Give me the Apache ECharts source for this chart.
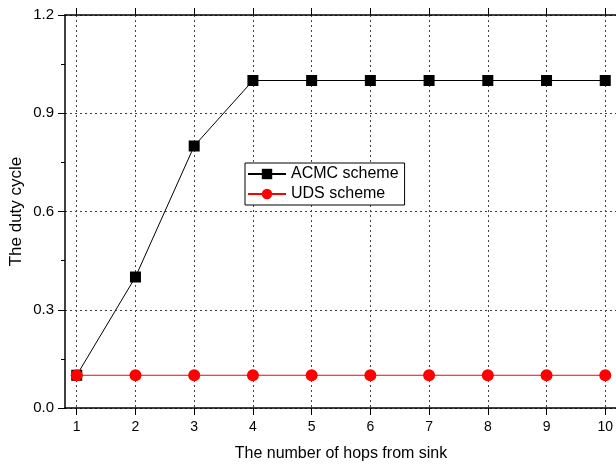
<!DOCTYPE html>
<html>
<head>
<meta charset="utf-8">
<script src="https://cdn.jsdelivr.net/npm/echarts@6/dist/echarts.min.js"></script>
<style>html,body{margin:0;padding:0;background:#fff}#c{width:616px;height:467px}</style>
</head>
<body>
<div id="c"></div>
<script>
const hops = [1, 2, 3, 4, 5, 6, 7, 8, 9, 10];
const acmc = [0.1, 0.4, 0.8, 1.0, 1.0, 1.0, 1.0, 1.0, 1.0, 1.0];
const uds = [0.1, 0.1, 0.1, 0.1, 0.1, 0.1, 0.1, 0.1, 0.1, 0.1];

const chart = echarts.init(document.getElementById('c'), null, {renderer: 'canvas'});
const font = 'Liberation Sans, Arial, sans-serif';
const gridLine = {show: true, lineStyle: {color: '#444', type: [2, 3], width: 1}};
chart.setOption({
  animation: false,
  textStyle: {fontFamily: font},
  grid: {left: 65, top: 15, width: 552, height: 393, containLabel: false, outerBoundsMode: 'none'},
  legend: {
    orient: 'vertical', left: 245, top: 163,
    padding: [3, 6, 3, 2], itemGap: 4,
    borderColor: '#000', borderWidth: 1, backgroundColor: '#fff',
    itemWidth: 38, itemHeight: 13,
    textStyle: {fontSize: 16, color: '#000', fontFamily: font},
    data: ['ACMC scheme', 'UDS scheme']
  },
  xAxis: [{
    type: 'value', min: 0.8, max: 10.2, position: 'bottom',
    axisLine: {show: true, onZero: false, lineStyle: {color: '#000', width: 1.5}},
    axisTick: {show: true, customValues: hops, length: 7, lineStyle: {color: '#000'}},
    axisLabel: {show: true, customValues: hops, fontSize: 14, color: '#000', margin: 12, fontFamily: font},
    splitLine: gridLine,
    name: 'The number of hops from sink', nameLocation: 'middle', nameGap: 38,
    nameTextStyle: {fontSize: 16, color: '#000', fontFamily: font}
  }, {
    type: 'value', min: 0.8, max: 10.2, position: 'top',
    axisLine: {show: true, onZero: false, lineStyle: {color: '#000', width: 1.5}},
    axisTick: {show: true, customValues: hops, length: 7, lineStyle: {color: '#000'}},
    axisLabel: {show: false}, splitLine: {show: false}
  }],
  yAxis: [{
    type: 'value', min: 0, max: 1.2, interval: 0.3,
    axisLine: {show: true, onZero: false, lineStyle: {color: '#000', width: 1.5}},
    axisTick: {show: true, length: 7, lineStyle: {color: '#000'}},
    minorTick: {show: true, splitNumber: 2, length: 4, lineStyle: {color: '#000'}},
    axisLabel: {fontSize: 15, color: '#000', margin: 11, fontFamily: font, formatter: v => v.toFixed(1)},
    splitLine: gridLine,
    name: 'The duty cycle', nameLocation: 'middle', nameGap: 40, nameMoveOverlap: false,
    nameTextStyle: {fontSize: 17, color: '#000', fontFamily: font}
  }, {
    type: 'value', min: 0, max: 1.2, interval: 0.3, position: 'right',
    axisLine: {show: true, onZero: false, lineStyle: {color: '#000', width: 1.5}},
    axisTick: {show: true, length: 6}, axisLabel: {show: false}, splitLine: {show: false}
  }],
  series: [{
    name: 'ACMC scheme', type: 'line',
    data: hops.map((h, i) => [h, acmc[i]]),
    symbol: 'rect', symbolSize: 11,
    lineStyle: {color: '#000', width: 1}, itemStyle: {color: '#000'}, z: 3
  }, {
    name: 'UDS scheme', type: 'line',
    data: hops.map((h, i) => [h, uds[i]]),
    symbol: 'circle', symbolSize: 12,
    lineStyle: {color: '#ff0000', width: 1}, itemStyle: {color: '#ff0000'}, z: 4
  }]
});
</script>
</body>
</html>
